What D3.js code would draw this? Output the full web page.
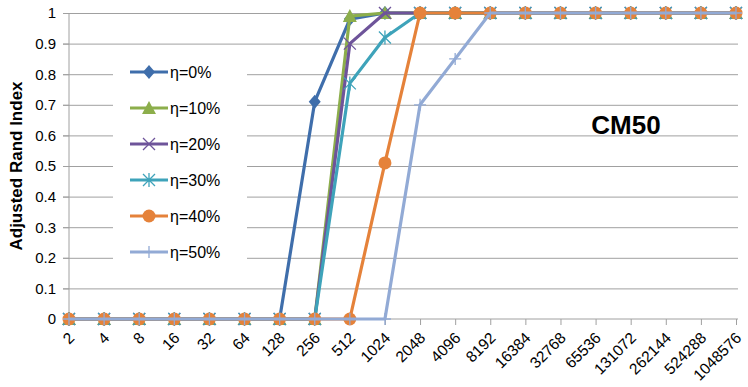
<!DOCTYPE html>
<html>
<head>
<meta charset="utf-8">
<script src="https://cdn.jsdelivr.net/npm/d3@7"></script>
<style>
  body { margin: 0; background: #fff; }
  text { font-family: "Liberation Sans", Arial, sans-serif; }
</style>
</head>
<body>
<svg id="chart" width="748" height="387"></svg>
<script>
'use strict';

const categories = ["2", "4", "8", "16", "32", "64", "128", "256", "512", "1024", "2048", "4096",
    "8192", "16384", "32768", "65536", "131072", "262144", "524288", "1048576"];
const seriesNames = ["η=0%", "η=10%", "η=20%", "η=30%", "η=40%", "η=50%"];
const eta0  = [0, 0, 0, 0, 0, 0, 0, 0.71, 0.98, 1, 1, 1, 1, 1, 1, 1, 1, 1, 1, 1];
const eta10 = [0, 0, 0, 0, 0, 0, 0, 0, 0.99, 1, 1, 1, 1, 1, 1, 1, 1, 1, 1, 1];
const eta20 = [0, 0, 0, 0, 0, 0, 0, 0, 0.9, 1, 1, 1, 1, 1, 1, 1, 1, 1, 1, 1];
const eta30 = [0, 0, 0, 0, 0, 0, 0, 0, 0.77, 0.92, 1, 1, 1, 1, 1, 1, 1, 1, 1, 1];
const eta40 = [0, 0, 0, 0, 0, 0, 0, 0, 0, 0.51, 1, 1, 1, 1, 1, 1, 1, 1, 1, 1];
const eta50 = [0, 0, 0, 0, 0, 0, 0, 0, 0, 0, 0.70, 0.85, 1, 1, 1, 1, 1, 1, 1, 1];
const yTicks = [0, 0.1, 0.2, 0.3, 0.4, 0.5, 0.6, 0.7, 0.8, 0.9, 1];

const colors = ["#3f6eab", "#8cae4b", "#6e549a", "#3ea3ba", "#e5823a", "#92aad5"];
const markers = ["diamond", "triangle", "x", "star", "circle", "plus"];
const allSeries = [eta0, eta10, eta20, eta30, eta40, eta50];

const plotLeft = 69, plotRight = 736, plotTop = 13, plotBottom = 319;

const svg = d3.select("#chart");

const x = d3.scalePoint().domain(categories).range([plotLeft, plotRight]);
const y = d3.scaleLinear().domain([0, 1]).range([plotBottom, plotTop]);

// gridlines
svg.append("g")
    .attr("transform", `translate(${plotLeft},0)`)
    .call(d3.axisLeft(y).tickValues(yTicks.slice(1)).tickSize(-(plotRight - plotLeft + 2)).tickFormat(""))
    .call(g => g.select(".domain").remove())
    .call(g => g.selectAll("line").attr("stroke", "#a0a0a0").attr("x1", -6));

// y axis
svg.append("g")
    .attr("transform", `translate(${plotLeft},0)`)
    .call(d3.axisLeft(y).tickValues(yTicks).tickSize(6).tickPadding(7).tickFormat(d3.format("")))
    .call(g => g.select(".domain").attr("stroke", "#a0a0a0").attr("d", `M0,${plotTop}V${plotBottom}`))
    .call(g => g.selectAll("line").attr("stroke", "#a0a0a0"))
    .call(g => g.selectAll("text").attr("font-size", 15).attr("fill", "#000")
        .attr("font-family", "Liberation Sans, Arial, sans-serif"));

// x axis
svg.append("g")
    .attr("transform", `translate(0,${plotBottom})`)
    .call(d3.axisBottom(x).tickSize(6))
    .call(g => g.select(".domain").attr("stroke", "#a0a0a0").attr("d", `M${plotLeft - 6},0H${plotRight + 2}`))
    .call(g => g.selectAll("line").attr("stroke", "#a0a0a0"))
    .call(g => g.selectAll("text")
        .attr("font-size", 15.5).attr("fill", "#000")
        .attr("font-family", "Liberation Sans, Arial, sans-serif")
        .attr("text-anchor", "end")
        .attr("x", 0).attr("y", 0).attr("dy", "0.35em")
        .attr("transform", "translate(2,16) rotate(-45)"));

let drawMarker = (g, type, color) => {
    if (type === "diamond") {
        g.append("path").attr("d", "M0,-7L6,0L0,7L-6,0Z").attr("fill", color);
    } else if (type === "triangle") {
        g.append("path").attr("d", "M0,-7L7,6L-7,6Z").attr("fill", color);
    } else if (type === "x") {
        g.append("path").attr("d", "M-6,-6L6,6M-6,6L6,-6").attr("stroke", color).attr("stroke-width", 1.3);
    } else if (type === "star") {
        g.append("path").attr("d", "M-6,-6L6,6M-6,6L6,-6M0,-7L0,7").attr("stroke", color).attr("stroke-width", 1.3);
    } else if (type === "circle") {
        g.append("circle").attr("r", 6.5).attr("fill", color);
    } else if (type === "plus") {
        g.append("path").attr("d", "M-6,0L6,0M0,-6L0,6").attr("stroke", color).attr("stroke-width", 1.3);
    }
}

const line = d3.line().x((d, i) => x(categories[i])).y(d => y(d));

allSeries.forEach((values, s) => {
    const sg = svg.append("g");
    sg.append("path")
        .datum(values)
        .attr("d", line)
        .attr("fill", "none")
        .attr("stroke", colors[s])
        .attr("stroke-width", 3.2)
        .attr("stroke-linejoin", "round");
    values.forEach((v, i) => {
        const mg = sg.append("g").attr("transform", `translate(${x(categories[i])},${y(v)})`);
        drawMarker(mg, markers[s], colors[s]);
    });
});

// legend
const legend = svg.append("g");
legend.append("rect").attr("x", 113).attr("y", 55).attr("width", 134).attr("height", 215).attr("fill", "#fff");
seriesNames.forEach((name, s) => {
    const ly = 72 + s * 36;
    legend.append("line").attr("x1", 130).attr("x2", 168).attr("y1", ly).attr("y2", ly)
        .attr("stroke", colors[s]).attr("stroke-width", 3.2);
    drawMarker(legend.append("g").attr("transform", `translate(149,${ly})`), markers[s], colors[s]);
    legend.append("text").attr("x", 170).attr("y", ly).attr("dy", "0.35em")
        .attr("font-size", 16).text(name);
});

// title inside plot
svg.append("text").attr("x", 626).attr("y", 134).attr("text-anchor", "middle")
    .attr("font-size", 26).attr("font-weight", "bold").text("CM50");

// y axis title
svg.append("text")
    .attr("transform", "translate(22,166) rotate(-90)")
    .attr("text-anchor", "middle")
    .attr("font-size", 17).attr("font-weight", "bold")
    .text("Adjusted Rand Index");
</script>
</body>
</html>
